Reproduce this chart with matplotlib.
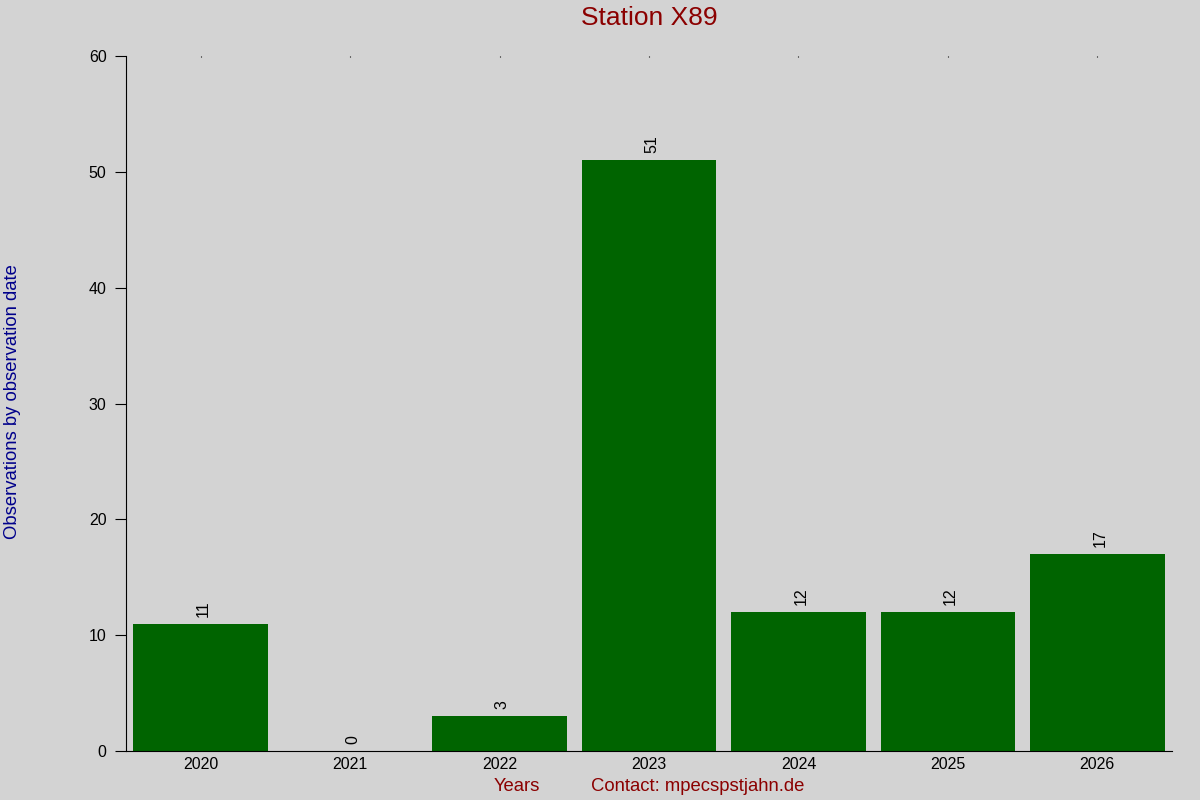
import matplotlib.pyplot as plt
import numpy as np

plt.rcParams['font.family'] = ['Liberation Sans', 'DejaVu Sans']

years = ['2020', '2021', '2022', '2023', '2024', '2025', '2026']
counts = [11, 0, 3, 51, 12, 12, 17]

fig = plt.figure(figsize=(12, 8), dpi=100, facecolor='#d3d3d3')
ax = fig.add_axes([0.105, 0.06125, 0.8717, 0.86875])
ax.set_facecolor('#d3d3d3')

x = np.arange(len(years))
bars = ax.bar(x, counts, width=0.9, color='#006400')

# value labels above the bars, rotated
for xi, c in zip(x, counts):
    ax.annotate(str(c), (xi, c), xytext=(2, 5), textcoords='offset points',
                rotation=90, ha='center', va='bottom', fontsize=11.5)

ax.set_xlim(-0.5, 6.5)
ax.set_ylim(0, 60)
ax.set_xticks(x)
ax.set_xticklabels(years)
ax.set_yticks([0, 10, 20, 30, 40, 50, 60])

for s in ['top', 'right']:
    ax.spines[s].set_visible(False)
ax.spines['left'].set_color('black')
ax.spines['bottom'].set_color('black')

ax.tick_params(axis='x', bottom=False, top=True, direction='in', length=1,
               labelsize=11.5, pad=4)
ax.tick_params(axis='y', length=8, labelsize=11.5, pad=6)

fig.text(0.541, 0.977, 'Station X89', color='#8b0000', fontsize=19,
         ha='center', va='center')
fig.text(0.0105, 0.4975, 'Observations by observation date', color='#00008b',
         fontsize=13.3, rotation=90, ha='center', va='center')
fig.text(0.431, 0.017, 'Years', color='#8b0000', fontsize=13.3,
         ha='center', va='center')
fig.text(0.4925, 0.017, 'Contact: mpecspstjahn.de', color='#8b0000',
         fontsize=13.3, ha='left', va='center')

fig.savefig('out.png', dpi=100, facecolor=fig.get_facecolor())
